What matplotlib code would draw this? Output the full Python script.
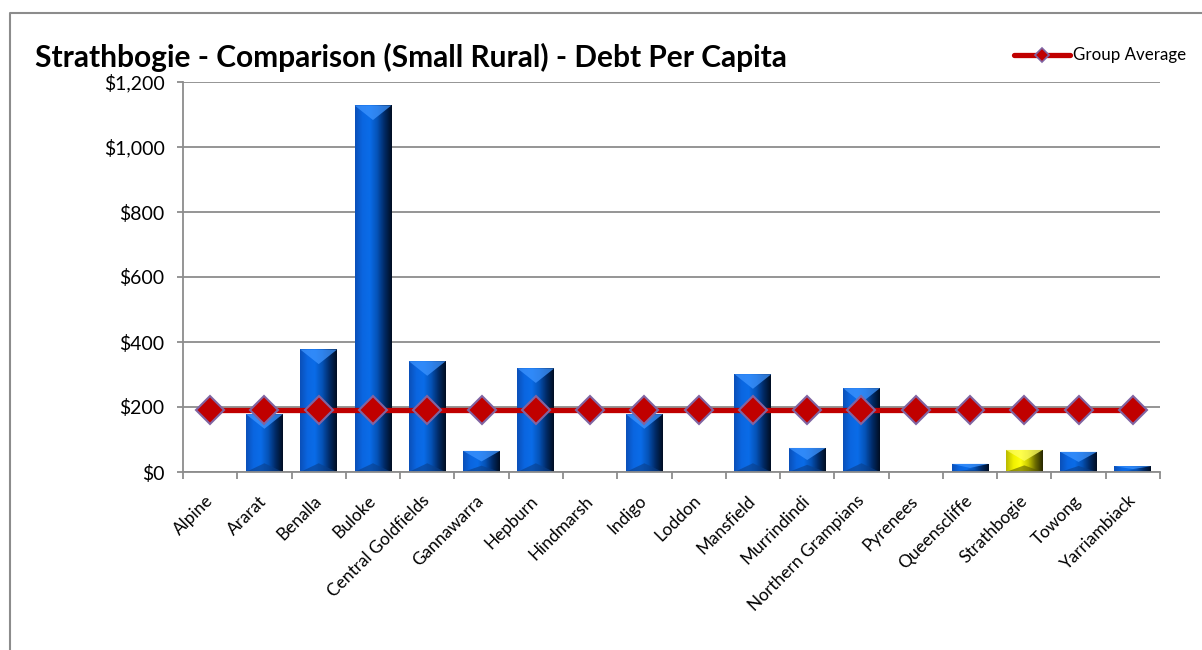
import matplotlib
matplotlib.use("Agg")
import matplotlib.pyplot as plt
import numpy as np
from matplotlib.patches import Polygon
from matplotlib.colors import LinearSegmentedColormap
from matplotlib.lines import Line2D
from matplotlib.ticker import FuncFormatter, FixedLocator

councils = ["Alpine", "Ararat", "Benalla", "Buloke", "Central Goldfields", "Gannawarra",
            "Hepburn", "Hindmarsh", "Indigo", "Loddon", "Mansfield", "Murrindindi",
            "Northern Grampians", "Pyrenees", "Queenscliffe", "Strathbogie", "Towong",
            "Yarriambiack"]
debt = [0, 178, 377, 1128, 341, 65, 319, 0, 178, 0, 301, 74, 258, 0, 25, 68, 62, 18]
group_average = [190] * len(councils)
highlight = "Strathbogie"

title = "Strathbogie - Comparison (Small Rural) - Debt Per Capita"
FONT = ["Lato", "DejaVu Sans"]

fig = plt.figure(figsize=(12.02, 6.5), dpi=100)
ax = fig.add_axes([183/1202, 1-472/650, (1160-183)/1202, (472-82)/650])

x = np.arange(len(councils))
bars = ax.bar(x, debt, width=0.68, color="#0060d8", zorder=2, linewidth=0)

blue_cmap = LinearSegmentedColormap.from_list(
    "b", ["#0a4fb8", "#0a66e0", "#0a6ce8", "#0553b8", "#012a66", "#000d22"])
yel_cmap = LinearSegmentedColormap.from_list(
    "y", ["#b8b800", "#f0f000", "#ffff10", "#c8c800", "#6a6a00", "#262600"])
grad = np.linspace(0, 1, 200).reshape(1, -1)

bevel = 45.0
for name, b, val in zip(councils, bars, debt):
    if val <= 0:
        continue
    x0 = b.get_x(); w = b.get_width(); x1 = x0 + w; xc = x0 + w/2
    cmap = yel_cmap if name == highlight else blue_cmap
    im = ax.imshow(grad, cmap=cmap, aspect="auto", extent=(x0, x1, 0, val),
                   zorder=2.1, interpolation="bilinear")
    im.set_clip_path(b)
    d = min(bevel, val/2)
    top_c = "#ffff60" if name == highlight else "#3d94ff"
    bot_c = "#5a5a00" if name == highlight else "#0a3f8a"
    ax.add_patch(Polygon([(x0, val), (x1, val), (xc, val - d)], closed=True,
                         facecolor=top_c, alpha=0.75, lw=0, zorder=2.2))
    ax.add_patch(Polygon([(x0, 0), (x1, 0), (xc, min(d, val) * 0.6)], closed=True,
                         facecolor=bot_c, alpha=0.6, lw=0, zorder=2.2))
    b.set_facecolor("none")

ax.plot(x, group_average, color="#c00000", lw=3.8, marker="D", ms=14,
        markerfacecolor="#c00000", markeredgecolor="#8064a2", markeredgewidth=1.5,
        zorder=4)

ax.set_xlim(-0.5, len(councils) - 0.5)
ax.set_ylim(0, 1200)
ax.set_yticks(np.arange(0, 1201, 200))
ax.yaxis.set_major_formatter(FuncFormatter(lambda v, p: "${:,.0f}".format(v)))
ax.grid(axis="y", color="#8c8c8c", lw=1.3, zorder=0)
ax.set_axisbelow(True)

ax.set_xticks(x)
ax.set_xticklabels(councils, rotation=45, ha="right", va="center",
                   rotation_mode="anchor", fontsize=12.4, family=FONT, color="#000000")
ax.xaxis.set_minor_locator(FixedLocator(np.arange(-0.5, len(councils), 1.0)))
ax.tick_params(axis="x", which="major", length=0, pad=19)
ax.tick_params(axis="x", which="minor", length=5, color="#8c8c8c", width=1.3)
ax.tick_params(axis="y", length=4.3, color="#8c8c8c", width=1.3, labelsize=14, pad=9)
for lab in ax.get_yticklabels():
    lab.set_family(FONT)

for s in ["top", "right"]:
    ax.spines[s].set_visible(False)
for s in ["left", "bottom"]:
    ax.spines[s].set_color("#8c8c8c")
    ax.spines[s].set_linewidth(1.3)

fig.text(35/1202, 1-57/650, title, fontsize=21.5, fontweight="bold", family=FONT,
         ha="left", va="center")

# legend
legend_line = Line2D([1014/1202, 1070/1202], [1-55/650, 1-55/650], transform=fig.transFigure,
                     color="#c00000", lw=3.8, solid_capstyle="round")
fig.add_artist(legend_line)
legend_mark = Line2D([1042/1202], [1-55/650], transform=fig.transFigure, marker="D", ms=7,
                     markerfacecolor="#c00000", markeredgecolor="#8064a2", markeredgewidth=1.2)
fig.add_artist(legend_mark)
fig.text(1073/1202, 1-55/650, "Group Average", fontsize=12.2, family=FONT,
         ha="left", va="center")

# outer border (top and left edges visible)
border = Line2D([9.5/1202, 9.5/1202, 1.0], [0.0, 1-12.5/650, 1-12.5/650],
                transform=fig.transFigure, color="#8c8c8c", lw=1.5)
fig.add_artist(border)

fig.savefig("out.png", dpi=100)
